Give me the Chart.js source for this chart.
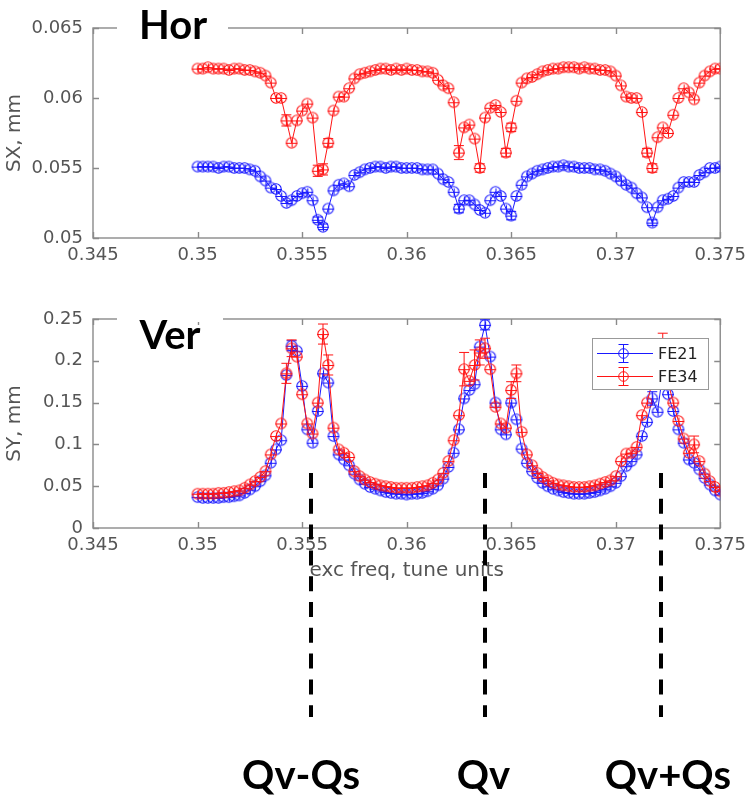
<!DOCTYPE html>
<html><head><meta charset="utf-8">
<script src="https://cdn.jsdelivr.net/npm/chart.js@4.4.1/dist/chart.umd.min.js"></script>
<style>
html,body{margin:0;padding:0;background:#fff;width:753px;height:796px;overflow:hidden;}
#top{position:absolute;left:0;top:0;}
#bot{position:absolute;left:0;top:290px;}
</style></head><body>
<canvas id="top" width="753" height="290"></canvas>
<canvas id="bot" width="753" height="506"></canvas>
<script>
// ---- data ----
const freq = [
0.35000,0.35025,0.35050,0.35075,0.35100,0.35125,0.35150,0.35175,0.35200,0.35225,
0.35250,0.35275,0.35300,0.35325,0.35350,0.35375,0.35400,0.35425,0.35450,0.35475,
0.35500,0.35525,0.35550,0.35575,0.35600,0.35625,0.35650,0.35675,0.35700,0.35725,
0.35750,0.35775,0.35800,0.35825,0.35850,0.35875,0.35900,0.35925,0.35950,0.35975,
0.36000,0.36025,0.36050,0.36075,0.36100,0.36125,0.36150,0.36175,0.36200,0.36225,
0.36250,0.36275,0.36300,0.36325,0.36350,0.36375,0.36400,0.36425,0.36450,0.36475,
0.36500,0.36525,0.36550,0.36575,0.36600,0.36625,0.36650,0.36675,0.36700,0.36725,
0.36750,0.36775,0.36800,0.36825,0.36850,0.36875,0.36900,0.36925,0.36950,0.36975,
0.37000,0.37025,0.37050,0.37075,0.37100,0.37125,0.37150,0.37175,0.37200,0.37225,
0.37250,0.37275,0.37300,0.37325,0.37350,0.37375,0.37400,0.37425,0.37450,0.37475,
0.37500];

const sxFE21 = [
.0551,.0551,.0551,.0551,.0550,.0551,.0551,.0550,.0550,.0550,
.0549,.0548,.0544,.0541,.0536,.0535,.0530,.0525,.0527,.0530,
.0532,.0533,.0527,.0513,.0508,.0521,.0534,.0538,.0539,.0537,
.0545,.0547,.0549,.0550,.0551,.0551,.0550,.0551,.0551,.0550,
.0550,.0550,.0550,.0549,.0549,.0549,.0546,.0542,.0540,.0533,
.0521,.0527,.0527,.0524,.0520,.0518,.0527,.0533,.0530,.0521,
.0516,.0530,.0538,.0544,.0546,.0548,.0549,.0550,.0551,.0551,
.0552,.0551,.0551,.0550,.0550,.0550,.0549,.0549,.0548,.0546,
.0544,.0541,.0538,.0536,.0532,.0529,.0522,.0511,.0522,.0527,
.0528,.0530,.0536,.0540,.0540,.0540,.0545,.0547,.0550,.0550,
.0551];

const sxFE34 = [
.0621,.0621,.0622,.0621,.0621,.0621,.0620,.0621,.0621,.0620,
.0620,.0619,.0618,.0616,.0611,.0600,.0600,.0584,.0568,.0584,
.0591,.0596,.0586,.0548,.0549,.0568,.0591,.0601,.0601,.0607,
.0614,.0617,.0618,.0619,.0620,.0621,.0621,.0620,.0621,.0620,
.0621,.0620,.0620,.0619,.0619,.0618,.0613,.0609,.0607,.0597,
.0561,.0579,.0581,.0571,.0550,.0586,.0593,.0595,.0590,.0561,
.0579,.0598,.0611,.0614,.0615,.0617,.0619,.0620,.0621,.0621,
.0622,.0622,.0622,.0621,.0622,.0621,.0621,.0620,.0620,.0619,
.0616,.0609,.0601,.0600,.0600,.0590,.0561,.0550,.0572,.0579,
.0575,.0588,.0600,.0607,.0604,.0599,.0611,.0616,.0619,.0621,
.0621];

const syFE21 = [
.037,.036,.036,.036,.036,.037,.037,.038,.039,.042,
.046,.050,.056,.063,.078,.094,.105,.183,.218,.212,
.170,.118,.102,.140,.185,.174,.110,.088,.082,.075,
.065,.058,.053,.049,.047,.045,.043,.042,.041,.041,
.040,.041,.041,.042,.044,.047,.051,.059,.073,.090,
.118,.155,.165,.172,.217,.243,.205,.150,.118,.112,
.150,.130,.095,.078,.068,.060,.054,.050,.047,.045,
.043,.042,.041,.041,.041,.042,.043,.045,.047,.050,
.054,.062,.074,.080,.088,.110,.127,.155,.139,.185,
.160,.140,.118,.102,.082,.078,.070,.060,.052,.045,
.040];

const syFE34 = [
.041,.041,.041,.041,.042,.042,.043,.044,.045,.048,
.052,.056,.061,.068,.088,.110,.125,.185,.215,.205,
.160,.125,.113,.150,.232,.195,.120,.094,.090,.085,
.068,.062,.058,.055,.053,.051,.050,.049,.048,.048,
.048,.048,.049,.050,.051,.054,.058,.066,.080,.105,
.135,.190,.176,.195,.210,.215,.190,.145,.125,.120,
.165,.185,.115,.088,.075,.066,.061,.057,.054,.052,
.051,.050,.049,.049,.049,.050,.051,.053,.055,.057,
.062,.080,.089,.090,.097,.135,.150,.175,.200,.215,
.175,.150,.128,.107,.090,.100,.080,.065,.056,.049,
.044];

// error bars: [point index, half-length]
const errSX21 = [[23,.0002],[24,.0002],[50,.0003],[60,.0003],[87,.0002]];
const errSX34 = [[17,.0004],[23,.0004],[24,.0004],[25,.0003],[50,.0005],[54,.0003],[59,.0003],[60,.0003],[86,.0003],[87,.0003]];
const errSY21 = [[18,.006],[55,.006],[87,.008]];
const errSY34 = [[17,.012],[18,.010],[24,.012],[25,.012],[51,.020],[53,.018],[54,.015],[55,.012],[60,.010],[61,.010],[88,.020],[89,.018],[95,.010]];

const xTicks = [0.345,0.35,0.355,0.36,0.365,0.37,0.375];
const sxTicks = [0.05,0.055,0.06,0.065];
const syTicks = [0,0.05,0.1,0.15,0.2,0.25];
const seriesNames = ['FE21','FE34'];
const resonanceTunes = [0.35543,0.36377,0.37216];
const resonanceNames = ['Qv-Qs','Qv','Qv+Qs'];

// ---- styling ----
const BLUE = 'rgb(25,25,255)', RED = 'rgb(255,20,20)';
const TICKC = '#555', AXC = '#8a8a8a';
const TF = 'DejaVu Sans';

function marker(color){
  const c = document.createElement('canvas'); c.width = 16; c.height = 16;
  const g = c.getContext('2d'); g.strokeStyle = color; g.lineWidth = 1.1;
  g.beginPath(); g.arc(8,8,5.2,0,Math.PI*2); g.stroke();
  g.beginPath(); g.moveTo(2,8.5); g.lineTo(14,8.5); g.moveTo(8.5,4.5); g.lineTo(8.5,12.5); g.stroke();
  return c;
}
const mBlue = marker(BLUE), mRed = marker(RED);

function pts(arr){ return freq.map((f,i)=>({x:f, y:arr[i]})); }

function ds(label, arr, color, mk, errs, order){
  return {label, data: pts(arr), borderColor: color, backgroundColor: color, borderWidth: 1,
    pointStyle: mk, pointRadius: 5, tension: 0, errorBars: errs, order};
}

const framePlugin = {
  id: 'frame',
  beforeDatasetsDraw(chart){
    const {ctx, chartArea: a, scales: {x, y}} = chart;
    ctx.save(); ctx.strokeStyle = AXC; ctx.lineWidth = 1.4;
    ctx.strokeRect(a.left, a.top, a.right - a.left, a.bottom - a.top);
    ctx.beginPath();
    x.ticks.forEach(t => { const p = Math.round(x.getPixelForValue(t.value)) + 0.5;
      ctx.moveTo(p, a.bottom); ctx.lineTo(p, a.bottom - 6); ctx.moveTo(p, a.top); ctx.lineTo(p, a.top + 6); });
    y.ticks.forEach(t => { const p = Math.round(y.getPixelForValue(t.value)) + 0.5;
      ctx.moveTo(a.left, p); ctx.lineTo(a.left + 6, p); ctx.moveTo(a.right, p); ctx.lineTo(a.right - 6, p); });
    ctx.stroke(); ctx.restore();
  },
  afterDatasetsDraw(chart){
    const {ctx, scales: {x, y}} = chart;
    chart.data.datasets.forEach(d => {
      if (!d.errorBars) return;
      ctx.save(); ctx.strokeStyle = d.borderColor; ctx.lineWidth = 1; ctx.beginPath();
      d.errorBars.forEach(([i, e]) => {
        const p = d.data[i]; const px = x.getPixelForValue(p.x);
        const y1 = y.getPixelForValue(p.y + e), y0 = y.getPixelForValue(p.y - e);
        ctx.moveTo(px, y1); ctx.lineTo(px, y0);
        ctx.moveTo(px - 5, y1); ctx.lineTo(px + 5, y1);
        ctx.moveTo(px - 5, y0); ctx.lineTo(px + 5, y0);
      });
      ctx.stroke(); ctx.restore();
    });
  }
};

const panelPlugin = {
  id: 'panel',
  afterDraw(chart){
    const o = chart.options.plugins.panel; if (!o) return;
    const {ctx, chartArea: a} = chart;
    ctx.save();
    ctx.fillStyle = '#fff'; ctx.fillRect(o.gapL, a.top - 3, o.gapR - o.gapL, 6);
    ctx.fillStyle = '#000'; ctx.font = 'bold 40px Lato'; ctx.textAlign = 'center'; ctx.textBaseline = 'alphabetic';
    ctx.fillText(o.text, o.cx, o.baseline);
    ctx.restore();
  }
};

const legendPlugin = {
  id: 'boxLegend',
  afterDraw(chart){
    const o = chart.options.plugins.boxLegend; if (!o) return;
    const {ctx} = chart;
    ctx.save();
    ctx.fillStyle = '#fff'; ctx.fillRect(o.x, o.y, o.w, o.h);
    ctx.strokeStyle = '#999'; ctx.lineWidth = 1; ctx.strokeRect(o.x + 0.5, o.y + 0.5, o.w, o.h);
    chart.data.datasets.forEach((d, k) => {
      const cy = o.y + 15.5 + k * 23;
      ctx.strokeStyle = d.borderColor; ctx.lineWidth = 1;
      ctx.beginPath(); ctx.moveTo(o.x + 5, cy); ctx.lineTo(o.x + 61, cy);
      const mx = o.x + 31.5;
      ctx.moveTo(mx, cy - 9); ctx.lineTo(mx, cy + 9);
      ctx.moveTo(mx - 5, cy - 9); ctx.lineTo(mx + 5, cy - 9);
      ctx.moveTo(mx - 5, cy + 9); ctx.lineTo(mx + 5, cy + 9);
      ctx.stroke();
      ctx.beginPath(); ctx.arc(mx, cy, 4.8, 0, Math.PI * 2); ctx.stroke();
      ctx.fillStyle = '#222'; ctx.font = '16px "DejaVu Sans"'; ctx.textAlign = 'left'; ctx.textBaseline = 'middle';
      ctx.fillText(d.label, o.x + 66, cy + 1);
    });
    ctx.restore();
  }
};

const resonancePlugin = {
  id: 'resonance',
  afterDraw(chart){
    const o = chart.options.plugins.resonance; if (!o) return;
    const {ctx, scales: {x}} = chart;
    ctx.save();
    ctx.strokeStyle = '#000'; ctx.lineWidth = 4; ctx.setLineDash([15, 10.8]);
    resonanceTunes.forEach((t, k) => {
      const px = Math.round(x.getPixelForValue(t));
      ctx.beginPath(); ctx.moveTo(px, o.y0); ctx.lineTo(px, o.y1); ctx.stroke();
    });
    ctx.setLineDash([]);
    ctx.fillStyle = '#000'; ctx.font = 'bold 40px Lato'; ctx.textAlign = 'center'; ctx.textBaseline = 'alphabetic';
    resonanceTunes.forEach((t, k) => {
      const px = x.getPixelForValue(t);
      ctx.fillText(resonanceNames[k], px + o.dx[k], o.labelY);
    });
    ctx.restore();
  }
};

function axisX(height, title){
  return {
    type: 'linear', min: 0.345, max: 0.375,
    afterBuildTicks: s => { s.ticks = xTicks.map(v => ({value: v})); },
    afterFit: s => { s.height = height; },
    grid: {display: false, drawTicks: false}, border: {display: false},
    ticks: {autoSkip: false, maxRotation: 0, padding: 7, color: TICKC, font: {family: TF, size: 18},
      callback: v => String(v)},
    title: title ? {display: true, text: title, color: TICKC, font: {family: TF, size: 20}, padding: {top: 0, bottom: 0}} : {display: false}
  };
}
function axisY(min, max, ticks, title){
  return {
    type: 'linear', min, max,
    afterBuildTicks: s => { s.ticks = ticks.map(v => ({value: v})); },
    afterFit: s => { s.width = 93; },
    grid: {display: false, drawTicks: false}, border: {display: false},
    ticks: {autoSkip: false, padding: 10, color: TICKC, font: {family: TF, size: 18}, callback: v => String(v)},
    title: {display: true, text: title, color: TICKC, font: {family: TF, size: 20}, padding: {top: 3, bottom: 0}}
  };
}

const common = {responsive: false, animation: false, devicePixelRatio: 1, events: []};

new Chart(document.getElementById('top'), {
  type: 'line',
  data: {datasets: [
    ds(seriesNames[0], sxFE21, BLUE, mBlue, errSX21, 1),
    ds(seriesNames[1], sxFE34, RED, mRed, errSX34, 0)
  ]},
  options: Object.assign({}, common, {
    layout: {padding: {left: 0, right: 27, top: 28, bottom: 0}},
    scales: {x: axisX(52, null), y: axisY(0.05, 0.065, sxTicks, 'SX, mm')},
    plugins: {legend: {display: false}, tooltip: {enabled: false},
      panel: {text: 'Hor', cx: 173, baseline: 39, gapL: 117, gapR: 228}}
  }),
  plugins: [framePlugin, panelPlugin]
});

new Chart(document.getElementById('bot'), {
  type: 'line',
  data: {datasets: [
    ds(seriesNames[0], syFE21, BLUE, mBlue, errSY21, 1),
    ds(seriesNames[1], syFE34, RED, mRed, errSY34, 0)
  ]},
  options: Object.assign({}, common, {
    layout: {padding: {left: 0, right: 27, top: 29, bottom: 213}},
    scales: {x: axisX(55, 'exc freq, tune units'), y: axisY(0, 0.25, syTicks, 'SY, mm')},
    plugins: {legend: {display: false}, tooltip: {enabled: false},
      panel: {text: 'Ver', cx: 170, baseline: 59, gapL: 117, gapR: 223},
      boxLegend: {x: 592, y: 48, w: 116, h: 51},
      resonance: {y0: 183, y1: 427, labelY: 499, dx: [-10, -2, 7]}}
  }),
  plugins: [framePlugin, legendPlugin, panelPlugin, resonancePlugin]
});
</script>
</body></html>
